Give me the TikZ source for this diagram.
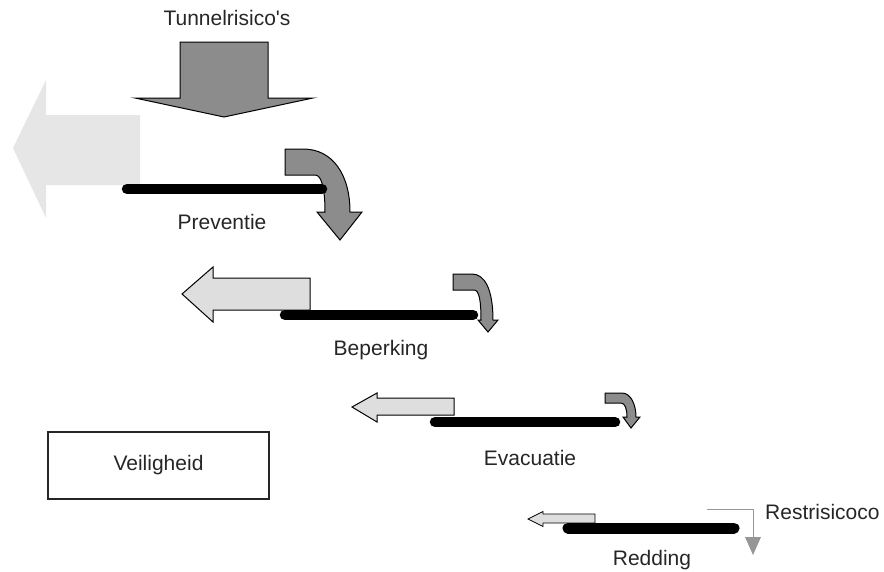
\documentclass[tikz,border=0pt]{standalone}
\usepackage{fontspec}
\setmainfont{Liberation Sans}
\newfontfamily\plainsans{Liberation Sans}
\definecolor{darkarrow}{RGB}{140,140,140}
\definecolor{lightarrow}{RGB}{222,222,222}
\definecolor{palearrow}{RGB}{230,230,230}
\definecolor{thinarrow}{RGB}{150,150,150}
\begin{document}
\begin{tikzpicture}[x=1pt,y=-1pt,
  darkfill/.style={draw=black,line width=1pt,fill=darkarrow,line join=miter},
  lightfill/.style={draw=black,line width=1pt,fill=lightarrow,line join=miter},
  palefill/.style={fill=palearrow},
  bar/.style={line width=10.5pt,line cap=round,black},
  lbl/.style={font=\fontsize{21}{25}\selectfont,inner sep=0pt,text=black!85},
  thinline/.style={draw=thinarrow,line width=0.9pt}]
\useasboundingbox (0,0) rectangle (884,571);

% top arrow
\draw[darkfill] (180,42) -- (268,42) -- (268,98) -- (313,98) -- (224,117) -- (135,98) -- (180,98) -- cycle;
\node[lbl] (tr) at (227,18) {\plainsans Tunnelrisico's};

% big pale arrow
\fill[palefill] (140,115) -- (140,185) -- (46,185) -- (46,218) -- (13,148) -- (46,80) -- (46,115) -- cycle;
% curved arrow 1
\draw[darkfill] (285,149) -- (303,149) .. controls (333,149) and (350,175) .. (350,212) -- (362,212) -- (340,240) -- (317,212) -- (325,212) .. controls (325,190) and (322,175) .. (315,175) -- (285,175) -- cycle;
\draw[bar] (127,189) -- (322,189);
\node[lbl] (prev) at (222,222) {Preventie};

% level 2
\draw[lightfill] (310,278) -- (310,310) -- (213,310) -- (213,322) -- (182,294) -- (213,267) -- (213,278) -- cycle;
\draw[darkfill] (453,274) -- (472,274) .. controls (485,274) and (493,290) .. (493,320) -- (498,320) -- (488,332) -- (478,320) -- (481,320) .. controls (481,300) and (479,290) .. (474,290) -- (453,290) -- cycle;
\draw[bar] (285,315) -- (473,315);
\node[lbl] (bep) at (381,350) {Beperking};

% level 3
\draw[lightfill] (454,398) -- (454,415) -- (377,415) -- (377,422) -- (352,407) -- (377,393) -- (377,398) -- cycle;
\draw[darkfill] (605,393) -- (622,393) .. controls (631,393) and (636,405) .. (636,417) -- (640,417) -- (631,428) -- (623,417) -- (627,417) .. controls (627,409) and (625,403) .. (621,403) -- (605,403) -- cycle;
\draw[bar] (435,422) -- (615,422);
\node[lbl] (evac) at (530,458) {Evacuatie};

% level 4
\draw[lightfill,line width=0.8pt] (595,514) -- (595,523) -- (543,523) -- (543,526.5) -- (528,519) -- (543,511.5) -- (543,514) -- cycle;
\coordinate (t1) at (707,509);
\coordinate (t2) at (753,509);
\coordinate (t3) at (753,538);
\draw[thinline] (t1) -- (t2) -- (t3);
\fill[thinarrow] (745,537) -- (761,537) -- (753,555) -- cycle;
\draw[bar,line width=11pt] (568,528) -- (734,528);
\node[lbl,anchor=west] (rest) at (765,512) {Restrisicoco};
\node[lbl] (red) at (652,560) {Redding};

% Veiligheid box
\node[draw=black!85,line width=1.4pt,minimum width=221pt,minimum height=67pt,font=\fontsize{21}{25}\selectfont,text=black!85] (veil) at (158.5,465.5) {Veiligheid};
\end{tikzpicture}
\end{document}
